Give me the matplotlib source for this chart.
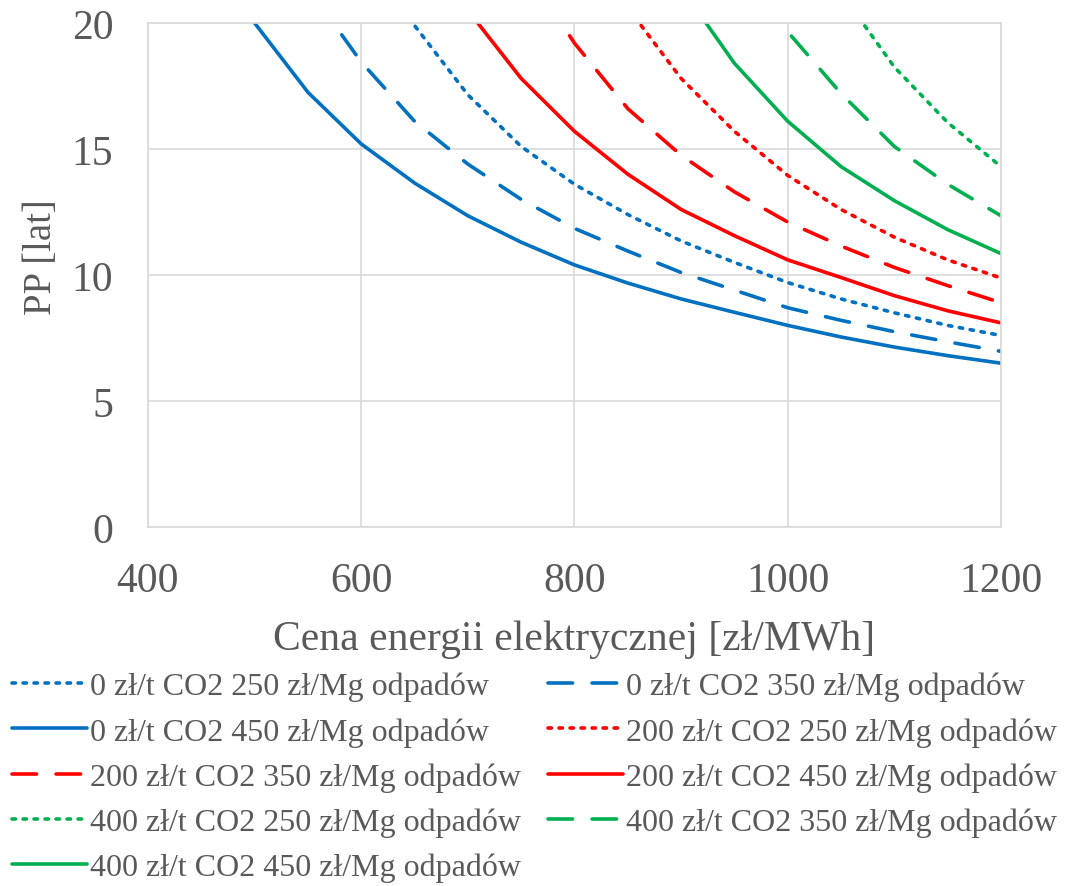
import numpy as np
import matplotlib
matplotlib.use("Agg")
import matplotlib.pyplot as plt

## data
ceny = [500, 550, 600, 650, 700, 750, 800, 850, 900, 950, 1000, 1050, 1100, 1150, 1200]
nan = np.nan

b250 = [nan, nan, 23.0, 19.9, 17.15, 15.1, 13.6, 12.4, 11.35, 10.5, 9.7, 9.05, 8.5, 8.0, 7.6]
b350 = [nan, 21.4, 18.45, 16.1, 14.4, 13.0, 11.85, 10.95, 10.1, 9.4, 8.7, 8.2, 7.75, 7.35, 6.97]
b450 = [20.0, 17.25, 15.2, 13.65, 12.35, 11.3, 10.4, 9.68, 9.05, 8.52, 8.0, 7.54, 7.14, 6.8, 6.5]
r250 = [nan, nan, nan, nan, nan, nan, nan, 20.6, 17.8, 15.7, 13.95, 12.6, 11.5, 10.6, 9.88]
r350 = [nan, nan, nan, nan, nan, 22.4, 19.2, 16.6, 14.75, 13.3, 12.1, 11.15, 10.3, 9.58, 8.9]
r450 = [nan, nan, nan, nan, 20.5, 17.8, 15.7, 14.0, 12.6, 11.56, 10.6, 9.9, 9.18, 8.58, 8.1]
g250 = [nan, nan, nan, nan, nan, nan, nan, nan, nan, nan, nan, 21.2, 18.25, 16.05, 14.3]
g350 = [nan, nan, nan, nan, nan, nan, nan, nan, nan, 23.1, 19.65, 17.2, 15.1, 13.6, 12.35]
g450 = [nan, nan, nan, nan, nan, nan, nan, nan, 21.4, 18.4, 16.1, 14.3, 12.95, 11.8, 10.85]

etykiety = [
    "0 zł/t CO2 250 zł/Mg odpadów", "0 zł/t CO2 350 zł/Mg odpadów",
    "0 zł/t CO2 450 zł/Mg odpadów", "200 zł/t CO2 250 zł/Mg odpadów",
    "200 zł/t CO2 350 zł/Mg odpadów", "200 zł/t CO2 450 zł/Mg odpadów",
    "400 zł/t CO2 250 zł/Mg odpadów", "400 zł/t CO2 350 zł/Mg odpadów",
    "400 zł/t CO2 450 zł/Mg odpadów",
]
serie = [b250, b350, b450, r250, r350, r450, g250, g350, g450]

NIEBIESKI = "#0070C0"
CZERWONY = "#FF0000"
ZIELONY = "#00B050"
SZARY = "#595959"
kolory = [NIEBIESKI] * 3 + [CZERWONY] * 3 + [ZIELONY] * 3
KROPKI = (0, (0.95, 2.1))
KRESKI = (0, (6.8, 5.4))
style = [KROPKI, KRESKI, "-"] * 3

plt.rcParams["font.family"] = ["Liberation Serif", "DejaVu Serif"]

fig = plt.figure(figsize=(10.71, 8.87), dpi=100)
ax = fig.add_axes([148 / 1071, 1 - 528 / 887, 853 / 1071, 504 / 887])

linie = []
for y, kol, st, et in zip(serie, kolory, style, etykiety):
    (ln,) = ax.plot(ceny, y, color=kol, linestyle=st, linewidth=2.6,
                    dash_capstyle="round", solid_capstyle="round", label=et)
    linie.append(ln)

ax.set_xlim(400, 1200)
ax.set_ylim(0, 20)
ax.set_xticks([400, 600, 800, 1000, 1200])
ax.set_yticks([0, 5, 10, 15, 20])
ax.grid(True, color="#d9d9d9", linewidth=1.2)
ax.set_axisbelow(True)
for s in ax.spines.values():
    s.set_color("#d9d9d9")
    s.set_linewidth(1.2)
ax.tick_params(length=0, labelsize=30, labelcolor=SZARY)
ax.tick_params(axis="x", pad=25)
ax.tick_params(axis="y", pad=25)
ax.set_xlabel("Cena energii elektrycznej [zł/MWh]", fontsize=30, color=SZARY, labelpad=14)
ax.set_ylabel("PP [lat]", fontsize=28, color=SZARY)
ax.yaxis.set_label_coords(-0.103, 0.538)

## legend filled row by row like in the original
kolejnosc = [0, 2, 4, 6, 8, 1, 3, 5, 7]
leg = fig.legend([linie[i] for i in kolejnosc], [etykiety[i] for i in kolejnosc],
                 loc="upper left", bbox_to_anchor=(12 / 1071, 1 - 673 / 887),
                 ncol=2, frameon=False, fontsize=23, handlelength=2.35,
                 handletextpad=0.1, columnspacing=0.84, labelspacing=0.49,
                 borderpad=0, borderaxespad=0)
for t in leg.get_texts():
    t.set_color(SZARY)

fig.savefig("out.png", dpi=100)
